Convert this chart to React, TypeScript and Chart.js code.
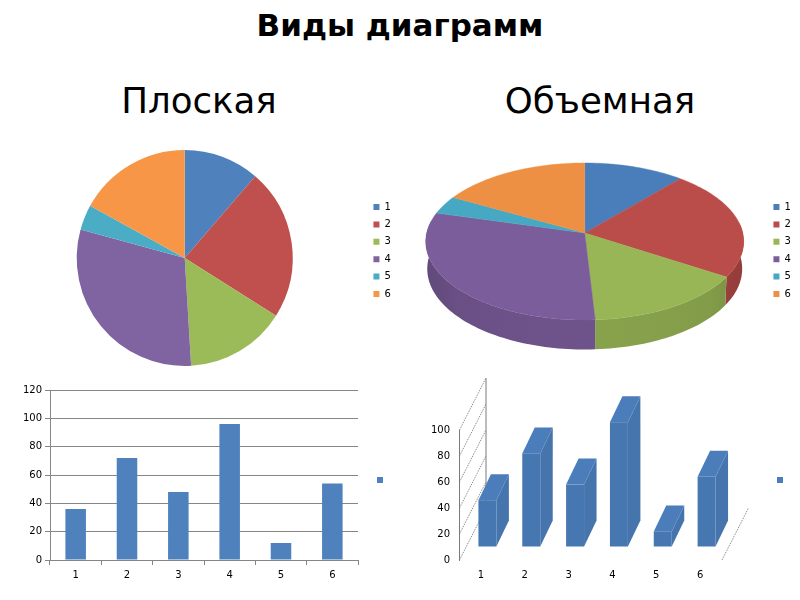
import React, { useEffect, useRef } from "react";
import { Chart, registerables } from "chart.js";

Chart.register(...registerables);
Chart.defaults.font.family = "'DejaVu Sans'";
Chart.defaults.font.size = 10;
Chart.defaults.color = "#000";

const categories = ["1", "2", "3", "4", "5", "6"];
const values = [36, 72, 48, 96, 12, 54];
const flatYTicksMax = 120;
const solidYTicksMax = 100;
const yStep = 20;

const flatPieColors = ["#4F81BD", "#C0504D", "#9BBB59", "#8064A2", "#4BACC6", "#F79646"];
const solidPieColors = ["#4A7EBB", "#BA4C49", "#98B655", "#7B5D9B", "#46A8C2", "#EE9043"];
const GRID = "#868686";

const PAGE_TITLE = "Виды диаграмм";
const LEFT_TITLE = "Плоская";
const RIGHT_TITLE = "Объемная";

function shiftLegend(dx: number, dy: number) {
  return {
    id: "shiftLegend",
    afterLayout(chart: any) {
      const l = chart.legend;
      l.left += dx; l.right += dx; l.top += dy; l.bottom += dy;
    },
  };
}

function hexRgb(hex: string) {
  const n = parseInt(hex.slice(1), 16);
  return [(n >> 16) & 255, (n >> 8) & 255, n & 255];
}
function shade(hex: string, f: number) {
  const [r, g, b] = hexRgb(hex);
  return `rgb(${Math.round(r * f)},${Math.round(g * f)},${Math.round(b * f)})`;
}

// perspective view of the pie: the arc elements' own angles and centre are projected
const solidPiePlugin = {
  id: "solidPie",
  beforeDatasetsDraw(chart: any) {
    const ctx = chart.ctx;
    const arcs = chart.getDatasetMeta(0).data;
    const K = 0.108;
    const project = (arc: any, a: number) => {
      const u = Math.cos(a), v = Math.sin(a);
      const den = 1 - K * v;
      return {
        x: arc.x + (arc.outerRadius * 2.026 * u) / den,
        y: arc.y + (arc.outerRadius * 0.995 * v) / den,
        u, v,
      };
    };
    ctx.save();
    const step = Math.PI / 120;
    arcs.forEach((arc: any, i: number) => {
      const front: any[] = [];
      for (let a = arc.startAngle; a < arc.endAngle + step; a += step) {
        const p = project(arc, Math.min(a, arc.endAngle));
        if (p.v > -0.15) front.push(p);
      }
      if (front.length < 2) return;
      const span = arc.outerRadius * 2.05;
      const grad = ctx.createLinearGradient(arc.x - span, 0, arc.x + span, 0);
      for (let s = 0; s <= 10; s++) {
        const u = -1 + s / 5;
        const v = Math.sqrt(Math.max(0, 1 - u * u));
        grad.addColorStop(s / 10, shade(solidPieColors[i], 0.79 + 0.1 * v));
      }
      ctx.fillStyle = grad;
      ctx.beginPath();
      front.forEach((p, n) => (n ? ctx.lineTo(p.x, p.y) : ctx.moveTo(p.x, p.y)));
      [...front].reverse().forEach((p) => ctx.lineTo(p.x - p.u * 1.5, p.y + 27 + 2.5 * p.v));
      ctx.closePath();
      ctx.fill();
    });
    arcs.forEach((arc: any, i: number) => {
      ctx.fillStyle = solidPieColors[i];
      ctx.strokeStyle = solidPieColors[i];
      ctx.lineWidth = 0.4;
      ctx.beginPath();
      ctx.moveTo(arc.x, arc.y);
      for (let a = arc.startAngle; a < arc.endAngle; a += step) {
        const p = project(arc, a);
        ctx.lineTo(p.x, p.y);
      }
      const e = project(arc, arc.endAngle);
      ctx.lineTo(e.x, e.y);
      ctx.closePath();
      ctx.fill(); ctx.stroke();
    });
    ctx.restore();
    return false;
  },
};

// oblique view of the bars and walls, from the chart's own scales and bar elements
const solidBarPlugin = {
  id: "solidBar",
  beforeDatasetsDraw(chart: any) {
    const ctx = chart.ctx;
    const { x: xs, y: ys } = chart.scales;
    const WALL_X = 26.5, WALL_Y = 52;
    const left = xs.left, right = xs.right, zero = ys.getPixelForValue(0);
    ctx.save();
    ctx.strokeStyle = "#7a7a7a";
    ctx.lineWidth = 1;
    ctx.setLineDash([1, 1]);
    ys.ticks.forEach((t: any) => {
      const y = ys.getPixelForValue(t.value);
      ctx.beginPath();
      ctx.moveTo(left + 0.5, y);
      ctx.lineTo(left + WALL_X + 0.5, y - WALL_Y);
      ctx.stroke();
    });
    ctx.beginPath();
    ctx.moveTo(right, zero);
    ctx.lineTo(right + WALL_X, zero - WALL_Y);
    ctx.stroke();
    ctx.setLineDash([]);
    ctx.beginPath();
    ctx.moveTo(left + WALL_X + 0.5, zero - WALL_Y);
    ctx.lineTo(left + WALL_X + 0.5, ys.getPixelForValue(solidYTicksMax) - WALL_Y);
    ctx.stroke();
    const OFF_X = 6.5, OFF_Y = 13, DX = 12.5, DY = 26;
    chart.getDatasetMeta(0).data.forEach((bar: any) => {
      const l = bar.x - bar.width / 2 + OFF_X;
      const r = l + bar.width;
      const t = bar.y - OFF_Y;
      const b = bar.base - OFF_Y;
      ctx.fillStyle = "#4674AC";
      ctx.beginPath();
      ctx.moveTo(r, t); ctx.lineTo(r + DX, t - DY); ctx.lineTo(r + DX, b - DY); ctx.lineTo(r, b);
      ctx.closePath(); ctx.fill();
      ctx.fillStyle = "#4A7DBA";
      ctx.beginPath();
      ctx.moveTo(l, t); ctx.lineTo(l + DX, t - DY); ctx.lineTo(r + DX, t - DY); ctx.lineTo(r, t);
      ctx.closePath(); ctx.fill();
      ctx.fillStyle = "#4777B1";
      ctx.fillRect(l, t, bar.width, b - t);
    });
    ctx.restore();
    return false;
  },
};

const legendBase = { boxWidth: 6, boxHeight: 6, color: "#000", font: { size: 10 } };

function pieConfig(colors: string[], pad: any, plugins: any[]): any {
  return {
    type: "pie",
    data: {
      labels: categories,
      datasets: [{ data: values, backgroundColor: colors, borderWidth: 0 }],
    },
    options: {
      animation: false,
      responsive: false,
      layout: { padding: pad },
      plugins: {
        legend: { position: "right", labels: { ...legendBase, padding: 7.4 } },
        tooltip: { enabled: false },
      },
    },
    plugins,
  };
}

function flatBarConfig(): any {
  return {
    type: "bar",
    data: {
      labels: categories,
      datasets: [{ label: "", data: values, backgroundColor: "#4F81BD", categoryPercentage: 1, barPercentage: 0.4 }],
    },
    options: {
      animation: false,
      responsive: false,
      layout: { padding: { top: 10, right: 16, bottom: 0, left: 0 } },
      plugins: {
        legend: { position: "right", labels: { ...legendBase, padding: 5 } },
        tooltip: { enabled: false },
      },
      scales: {
        x: {
          afterFit: (s: any) => { s.height = 25; },
          grid: { offset: true, drawOnChartArea: false, color: GRID, tickLength: 5, tickColor: GRID },
          border: { color: GRID },
          ticks: { color: "#000", padding: 4, maxRotation: 0, font: { size: 10 } },
        },
        y: {
          min: 0,
          max: flatYTicksMax,
          afterFit: (s: any) => { s.width = 50; },
          grid: { color: GRID, tickLength: 5, tickColor: GRID },
          border: { color: GRID },
          ticks: { stepSize: yStep, color: "#000", padding: 3, font: { size: 10 } },
        },
      },
    },
    plugins: [shiftLegend(14, -7.5)],
  };
}

function solidBarConfig(): any {
  return {
    type: "bar",
    data: {
      labels: categories,
      datasets: [{ label: "", data: values, backgroundColor: "#4A7DBA", categoryPercentage: 1, barPercentage: 0.41 }],
    },
    options: {
      animation: false,
      responsive: false,
      clip: false,
      layout: { padding: { top: 60, right: 52, bottom: 0, left: 0 } },
      plugins: {
        legend: { position: "right", labels: { ...legendBase, padding: 5 } },
        tooltip: { enabled: false },
      },
      scales: {
        x: {
          afterFit: (s: any) => { s.height = 25; },
          grid: { display: false, drawTicks: false },
          border: { display: false },
          ticks: { color: "#000", padding: 9, maxRotation: 0, font: { size: 10 } },
        },
        y: {
          min: 0,
          max: solidYTicksMax,
          afterFit: (s: any) => { s.width = 59; },
          grid: { drawOnChartArea: false, drawTicks: false },
          border: { color: "#7a7a7a" },
          ticks: { stepSize: yStep, color: "#000", padding: 9, font: { size: 10 } },
        },
      },
    },
    plugins: [shiftLegend(50, -27.5), solidBarPlugin],
  };
}

const panels: { left: number; top: number; w: number; h: number; make: () => any }[] = [
  {
    left: 0, top: 140, w: 400, h: 236,
    make: () => pieConfig(flatPieColors, { top: 10, bottom: 10, left: 9.2, right: 5 }, [shiftLegend(5.8, -7.5)]),
  },
  {
    left: 400, top: 100, w: 400, h: 266,
    make: () => pieConfig(solidPieColors, { top: 55, bottom: 55, left: 9.2, right: 5 }, [shiftLegend(5.8, 17.5), solidPiePlugin]),
  },
  { left: 0, top: 380, w: 400, h: 205, make: flatBarConfig },
  { left: 400, top: 370, w: 400, h: 215, make: solidBarConfig },
];

function Panel({ left, top, w, h, make }: any) {
  const ref = useRef<HTMLCanvasElement>(null);
  useEffect(() => {
    const chart = new Chart(ref.current as HTMLCanvasElement, make());
    return () => chart.destroy();
  }, []);
  return <canvas ref={ref} width={w} height={h} style={{ position: "absolute", left, top, width: w, height: h }} />;
}

const heading = (cx: number, cy: number, size: number, bold: boolean): React.CSSProperties => ({
  position: "absolute",
  left: cx - 200,
  top: cy - 30,
  width: 400,
  height: 60,
  lineHeight: "60px",
  textAlign: "center",
  fontFamily: "'DejaVu Sans'",
  fontSize: size,
  fontWeight: bold ? "bold" : "normal",
  color: "#000",
  whiteSpace: "nowrap",
});

export default function App() {
  return (
    <div style={{ position: "absolute", left: 0, top: 0, width: 800, height: 600, background: "#fff", overflow: "hidden" }}>
      <div style={heading(400, 25, 31, true)}>{PAGE_TITLE}</div>
      <div style={heading(199, 101, 35.6, false)}>{LEFT_TITLE}</div>
      <div style={heading(600, 101, 35.6, false)}>{RIGHT_TITLE}</div>
      {panels.map((p, i) => <Panel key={i} {...p} />)}
    </div>
  );
}
